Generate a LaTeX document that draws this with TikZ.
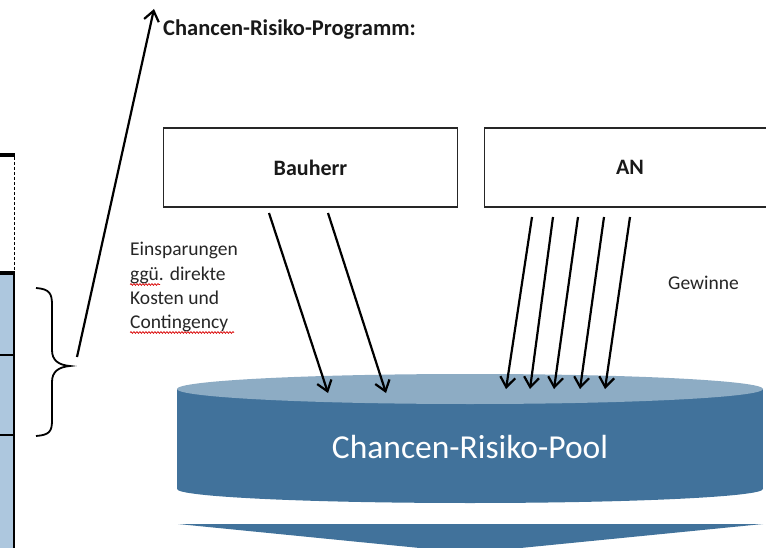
\documentclass[tikz,border=0pt]{standalone}
\usepackage{fontspec}
\setmainfont{Carlito}
\usetikzlibrary{arrows.meta,decorations.pathmorphing}
\definecolor{pooldark}{RGB}{65,114,155}
\definecolor{poollight}{RGB}{141,172,196}
\definecolor{barblue}{RGB}{173,199,222}
\tikzset{
  box/.style={draw=black!85, line width=1.3pt, fill=white, minimum height=79pt, inner sep=0pt},
  boxlabel/.style={font=\fontsize{22}{26}\selectfont\bfseries, text=black!90},
  flow/.style={line width=2.2pt, -{Straight Barb[length=10pt,width=15pt,line width=2.2pt]}},
  note/.style={font=\fontsize{19.5}{23}\selectfont, text=black!85, inner sep=0pt},
  spell/.style={red!85!black, line width=0.7pt, decorate,
    decoration={snake, segment length=3pt, amplitude=0.9pt}}
}
\begin{document}
\begin{tikzpicture}[x=1pt,y=-1pt]
\clip (0,0) rectangle (766,548);
\fill[white] (0,0) rectangle (766,548);

% stacked bar on the left edge
\fill[barblue] (-10,273) rectangle (14,560);
\draw[line width=1.4pt] (14,273) -- (14,560);
\draw[line width=1.4pt] (-10,355) -- (14,355);
\draw[line width=1.4pt] (-10,435) -- (14,435);
\draw[line width=3.5pt] (-10,155) -- (14.7,155);
\draw[line width=3.5pt] (-10,273) -- (14.7,273);
\draw[line width=1pt, dash pattern=on 3pt off 2pt] (14,157) -- (14,271);

% brace grouping two cells
\draw[line width=1.8pt] (36,288) .. controls (50,289) and (52,294) .. (52,305)
  -- (52,350) .. controls (52,360) and (58,365) .. (70,366)
  .. controls (58,367) and (52,372) .. (52,382)
  -- (52,420) .. controls (52,431) and (50,435) .. (36,436);

% pointer to the programme heading
\coordinate (braceTip) at (77,357);
\coordinate (progTip) at (154,9);
\draw[flow] (braceTip) -- (progTip);
\node[anchor=base west, inner sep=0pt, font=\fontsize{22.5}{26}\selectfont\bfseries, text=black!90]
  (prog) at (163,36) {Chancen-Risiko-Programm:};

% parties
\node[box, minimum width=294pt] (bau) at (310.5,167.5) {};
\node[boxlabel] (baulbl) at (bau.center) {Bauherr};
\node[box, minimum width=320pt, anchor=west] (an) at (484,167.5) {};
\node[boxlabel] (anlbl) at (630,167.5) {AN};

% side notes
\node[note, anchor=base west] (n1) at (130,256) {Einsparungen};
\node[note, anchor=base west] (n2) at (130,280) {ggü. direkte};
\node[note, anchor=base west] (n3) at (130,304) {Kosten und};
\node[note, anchor=base west] (n4) at (130,328) {Contingency};
\draw[spell] (130,284.5) -- (160,284.5);
\draw[spell] (130,332.5) -- (234,332.5);
\node[note, anchor=base west] (gew) at (668,290) {Gewinne};

% pool (cylinder)
\fill[pooldark] (177,389) rectangle (763,489);
\fill[pooldark] (470,489) ellipse [x radius=293, y radius=14];
\fill[poollight] (470,389) ellipse [x radius=293, y radius=15];
\node[text=white, font=\fontsize{33.5}{38}\selectfont] (pool) at (470,447) {Chancen-Risiko-Pool};

% outflow chevron below the pool
\fill[pooldark] (178,524) -- (763,524) -- (470,553) -- cycle;

% contributions from Bauherr
\coordinate (b1s) at (269,213); \coordinate (b1e) at (328,393);
\coordinate (b2s) at (328,213); \coordinate (b2e) at (386,393);
\draw[flow] (b1s) -- (b1e);
\draw[flow] (b2s) -- (b2e);

% contributions from AN
\foreach \i/\xs/\xe in {1/532/506, 2/553/530, 3/578/554, 4/604/580, 5/630/605} {
  \coordinate (a\i s) at (\xs,217);
  \coordinate (a\i e) at (\xe,389);
  \draw[flow] (a\i s) -- (a\i e);
}
\end{tikzpicture}
\end{document}
